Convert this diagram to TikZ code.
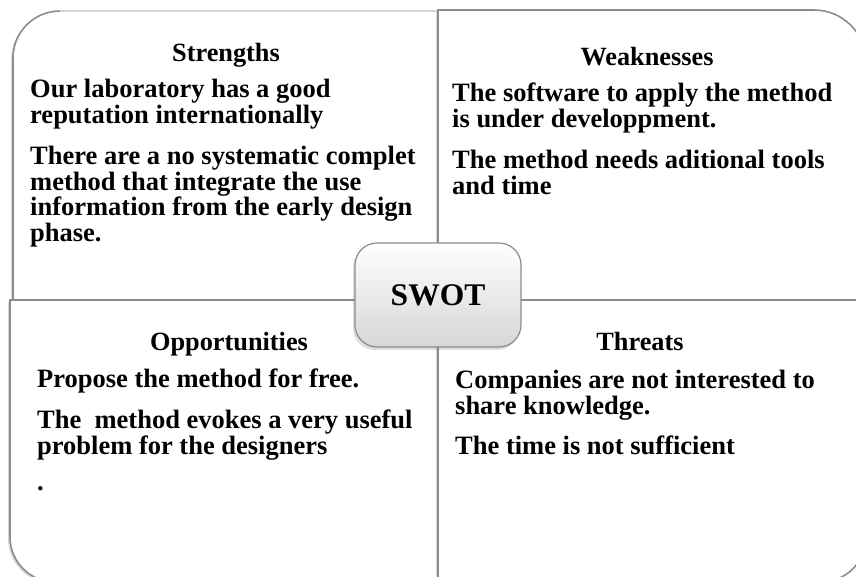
\documentclass[tikz,border=0pt]{standalone}
\usepackage{fontspec}
\setmainfont{Liberation Serif}
\usetikzlibrary{shadows}
\definecolor{framegray}{HTML}{8C8C8C}
\definecolor{faintgray}{HTML}{D4D4D4}
\definecolor{boxgray}{HTML}{D6D6D6}
\begin{document}
\begin{tikzpicture}[x=1pt,y=-1pt]
\tikzstyle{quadrant}=[fill=white,draw=framegray,line width=1.6pt,drop shadow={shadow xshift=-2pt,shadow yshift=-1.5pt,opacity=0.3}]
\tikzstyle{heading}=[anchor=base,inner sep=0pt,font=\fontsize{26.3}{26}\selectfont\bfseries]
\tikzstyle{entry}=[anchor=base west,inner sep=0pt,font=\fontsize{26.5}{26}\selectfont\bfseries]
\tikzstyle{swotbox}=[draw=framegray,line width=1.2pt,rounded corners=22pt,top color=white,bottom color=boxgray,minimum width=166pt,minimum height=104pt,inner sep=0pt,font=\fontsize{31.5}{32}\selectfont\bfseries,drop shadow={shadow xshift=-2pt,shadow yshift=-3pt,opacity=0.25}]
\clip (0,0) rectangle (856,576);
\draw[quadrant,draw=none] (438,300) -- (13,300) -- (13,58) arc[start angle=180,end angle=90,radius=47pt] -- (438,11) -- cycle;
\draw[framegray,line width=1.6pt] (438,11) -- (438,300) -- (13,300) -- (13,58) arc[start angle=180,end angle=90,radius=47pt];
\draw[faintgray,line width=1.2pt] (60,11) -- (438,11);
\draw[quadrant] (438,300) -- (438,10) -- (814,10) arc[start angle=90,end angle=0,radius=52pt] -- (866,300) -- cycle;
\draw[quadrant] (438,300) -- (10,300) -- (10,537) arc[start angle=180,end angle=270,radius=45pt] -- (438,582) -- cycle;
\draw[quadrant] (438,300) -- (866,300) -- (866,537) arc[start angle=0,end angle=-90,radius=45pt] -- (438,582) -- cycle;

\node[heading] (strengths) at (226,61) {Strengths};
\node[entry] (s1) at (30,97) {Our laboratory has a good};
\node[entry] (s2) at (30,123) {reputation internationally};
\node[entry] (s3) at (30,164) {There are a no systematic complet};
\node[entry] (s4) at (30,190) {method that integrate the use};
\node[entry] (s5) at (30,215) {information from the early design};
\node[entry] (s6) at (30,241) {phase.};

\node[heading] (weaknesses) at (647,65) {Weaknesses};
\node[entry] (w1) at (452,101) {The software to apply the method};
\node[entry] (w2) at (452,127) {is under developpment.};
\node[entry] (w3) at (452,168) {The method needs aditional tools};
\node[entry] (w4) at (452,194) {and time};

\node[heading] (opportunities) at (229,350) {Opportunities};
\node[entry] (o1) at (37,387) {Propose the method for free.};
\node[entry] (o2) at (37,428) {The\ \ method evokes a very useful};
\node[entry] (o3) at (37,454) {problem for the designers};
\node[entry] (o4) at (37,490) {.};

\node[heading] (threats) at (640,350) {Threats};
\node[entry] (t1) at (455,388) {Companies are not interested to};
\node[entry] (t2) at (455,414) {share knowledge.};
\node[entry] (t3) at (455,454) {The time is not sufficient};

\node[swotbox] (swot) at (438,295) {SWOT};
\end{tikzpicture}
\end{document}
